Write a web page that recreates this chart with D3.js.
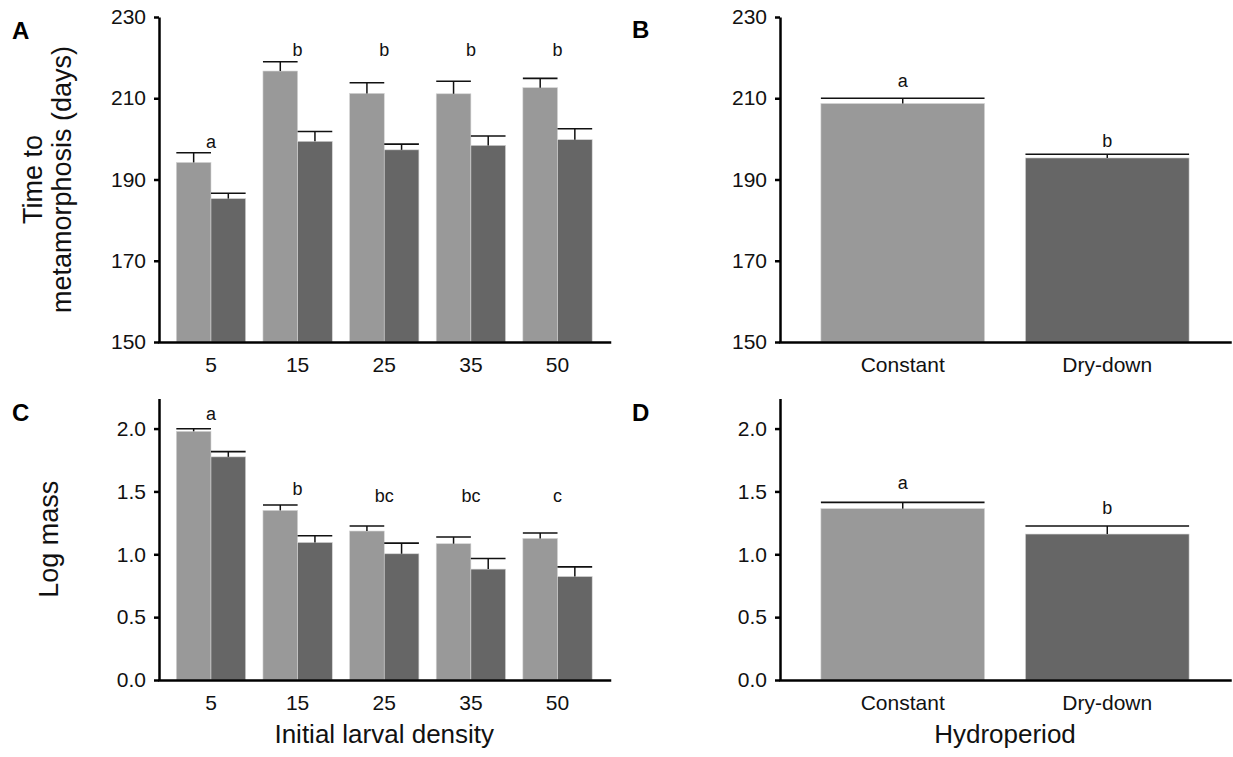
<!DOCTYPE html>
<html>
<head>
<meta charset="utf-8">
<script src="https://cdn.jsdelivr.net/npm/d3@7/dist/d3.min.js"></script>
<style>
  html, body { margin: 0; padding: 0; background: #fff; }
  svg { display: block; font-family: "Liberation Sans", Arial, Helvetica, sans-serif; }
</style>
</head>
<body>
<svg id="fig" width="1233" height="757"></svg>
<script>
// ---- data -------------------------------------------------------------
const densities = ["5", "15", "25", "35", "50"];
const hydroperiods = ["Constant", "Dry-down"];

// Time to metamorphosis (days), mean and SE
const timeConstant   = [194.2, 216.7, 211.2, 211.1, 212.6];
const timeConstantSE = [2.4, 2.3, 2.6, 3.1, 2.3];
const timeDryDown    = [185.3, 199.4, 197.3, 198.4, 199.8];
const timeDryDownSE  = [1.3, 2.4, 1.4, 2.3, 2.7];
const timeHydro      = [208.7, 195.3];
const timeHydroSE    = [1.3, 0.9];

// Log mass, mean and SE
const massConstant   = [1.978, 1.349, 1.185, 1.084, 1.126];
const massConstantSE = [0.020, 0.043, 0.040, 0.053, 0.043];
const massDryDown    = [1.775, 1.094, 1.004, 0.882, 0.823];
const massDryDownSE  = [0.042, 0.053, 0.085, 0.085, 0.077];
const massHydro      = [1.363, 1.161];
const massHydroSE    = [0.050, 0.064];

// Significance groupings and the value each letter sits at
const timeDensityLetters   = ["a", "b", "b", "b", "b"];
const timeDensityLetterAt  = [197.8, 220.5, 220.5, 220.5, 220.5];
const timeHydroLetters     = ["a", "b"];
const timeHydroLetterAt    = [212.7, 197.9];
const massDensityLetters   = ["a", "b", "bc", "bc", "c"];
const massDensityLetterAt  = [2.066, 1.474, 1.416, 1.416, 1.416];
const massHydroLetters     = ["a", "b"];
const massHydroLetterAt    = [1.522, 1.323];

// Axis ticks and domains
const timeTicks  = [150, 170, 190, 210, 230];
const timeDomain = [150, 230];
const massTicks  = [0, 0.5, 1.0, 1.5, 2.0];
const massDomain = [0, 2.24];

// ---- drawing ------------------------------------------------------------
const svg = d3.select("#fig");
const LIGHT = "#999999", DARK = "#666666", INK = "#111111";
const FONT = "Liberation Sans, Arial, sans-serif";

function drawPanel(o) {
  const g = svg.append("g");
  const x = d3.scaleBand().domain(o.categories).range(o.xRange)
    .paddingInner(0.2).paddingOuter(0.2);
  const y = d3.scaleLinear().domain(o.domain).range(o.yRange);

  // one row per bar; a series fill is either one colour or one per category
  const rows = [];
  o.categories.forEach((c, i) => {
    o.series.forEach((s, j) => {
      const fill = Array.isArray(s.fill) ? s.fill[i] : s.fill;
      rows.push({ c, i, j, v: s.values[i], se: s.se[i], fill });
    });
  });
  const sub = d3.scaleBand().domain(d3.range(o.series.length)).range([0, x.bandwidth()]);
  const left = d => x(d.c) + sub(d.j);

  const bar = g.append("g").selectAll("g").data(rows).join("g");
  bar.append("rect")
    .attr("x", left)
    .attr("width", sub.bandwidth())
    .attr("y", d => y(d.v))
    .attr("height", d => y(o.domain[0]) - y(d.v))
    .attr("fill", d => d.fill)
    .attr("stroke", "#d4d4d4")
    .attr("stroke-width", 0.6);

  // upper error bars with full-width caps
  bar.append("line")
    .attr("x1", d => left(d) + sub.bandwidth() / 2)
    .attr("x2", d => left(d) + sub.bandwidth() / 2)
    .attr("y1", d => y(d.v))
    .attr("y2", d => y(d.v + d.se))
    .attr("stroke", INK).attr("stroke-width", 1.5);
  bar.append("line")
    .attr("x1", left)
    .attr("x2", d => left(d) + sub.bandwidth())
    .attr("y1", d => y(d.v + d.se))
    .attr("y2", d => y(d.v + d.se))
    .attr("stroke", INK).attr("stroke-width", 1.6);

  // significance letters
  g.append("g").selectAll("text").data(o.categories).join("text")
    .attr("x", c => x(c) + x.bandwidth() / 2)
    .attr("y", (c, i) => y(o.letterAt[i]))
    .attr("text-anchor", "middle")
    .attr("font-size", 18)
    .attr("fill", INK)
    .text((c, i) => o.letters[i]);

  // y axis
  const yAxis = g.append("g")
    .attr("transform", `translate(${o.xRange[0]},0)`)
    .call(d3.axisLeft(y).tickValues(o.ticks).tickFormat(o.fmt)
      .tickSize(5).tickSizeOuter(0).tickPadding(8));
  yAxis.select(".domain").attr("stroke", "#000").attr("stroke-width", 2.5);
  yAxis.selectAll(".tick line").attr("stroke", "#000").attr("stroke-width", 2.5);
  yAxis.selectAll(".tick text").attr("font-size", 21).attr("fill", INK)
    .attr("font-family", FONT);

  // x axis
  const xAxis = g.append("g")
    .attr("transform", `translate(0,${o.yRange[0]})`)
    .call(d3.axisBottom(x).tickSize(0).tickSizeOuter(0).tickPadding(15));
  xAxis.select(".domain").attr("stroke", "#000").attr("stroke-width", 2.5)
    .attr("stroke-linecap", "square");
  xAxis.selectAll(".tick text").attr("font-size", 21).attr("fill", INK)
    .attr("font-family", FONT);

  // panel tag
  g.append("text")
    .attr("x", o.tagX).attr("y", o.tagY)
    .attr("font-size", 24).attr("font-weight", "bold").attr("fill", "#000")
    .text(o.tag);

  // x title
  if (o.xTitle) {
    g.append("text")
      .attr("x", (o.xRange[0] + o.xRange[1]) / 2).attr("y", 743)
      .attr("text-anchor", "middle").attr("font-size", 26).attr("fill", INK)
      .text(o.xTitle);
  }
  // y title (one or more lines)
  if (o.yTitle) {
    const cy = (o.yRange[0] + o.yRange[1]) / 2;
    const t = g.append("text")
      .attr("transform", `translate(${o.yTitleX},${cy}) rotate(-90)`)
      .attr("text-anchor", "middle").attr("font-size", 27).attr("fill", INK);
    o.yTitle.forEach((line, k) => {
      t.append("tspan").attr("x", 0).attr("y", k * 29).text(line);
    });
  }
}

const fmtInt = d3.format("d");
const fmt1 = d3.format(".1f");

drawPanel({
  tag: "A", tagX: 12, tagY: 39,
  categories: densities, xRange: [159, 609.5], yRange: [342, 17],
  domain: timeDomain, ticks: timeTicks, fmt: fmtInt,
  series: [
    { values: timeConstant, se: timeConstantSE, fill: LIGHT },
    { values: timeDryDown, se: timeDryDownSE, fill: DARK }
  ],
  letters: timeDensityLetters, letterAt: timeDensityLetterAt,
  yTitle: ["Time to", "metamorphosis (days)"], yTitleX: 42
});

drawPanel({
  tag: "B", tagX: 632, tagY: 38,
  categories: hydroperiods, xRange: [780, 1230], yRange: [342, 17],
  domain: timeDomain, ticks: timeTicks, fmt: fmtInt,
  series: [
    { values: timeHydro, se: timeHydroSE, fill: [LIGHT, DARK] }
  ],
  letters: timeHydroLetters, letterAt: timeHydroLetterAt
});

drawPanel({
  tag: "C", tagX: 12, tagY: 421,
  categories: densities, xRange: [159, 609.5], yRange: [680, 398.4],
  domain: massDomain, ticks: massTicks, fmt: fmt1,
  series: [
    { values: massConstant, se: massConstantSE, fill: LIGHT },
    { values: massDryDown, se: massDryDownSE, fill: DARK }
  ],
  letters: massDensityLetters, letterAt: massDensityLetterAt,
  yTitle: ["Log mass"], yTitleX: 58,
  xTitle: "Initial larval density"
});

drawPanel({
  tag: "D", tagX: 632, tagY: 421,
  categories: hydroperiods, xRange: [780, 1230], yRange: [680, 398.4],
  domain: massDomain, ticks: massTicks, fmt: fmt1,
  series: [
    { values: massHydro, se: massHydroSE, fill: [LIGHT, DARK] }
  ],
  letters: massHydroLetters, letterAt: massHydroLetterAt,
  xTitle: "Hydroperiod"
});
</script>
</body>
</html>
